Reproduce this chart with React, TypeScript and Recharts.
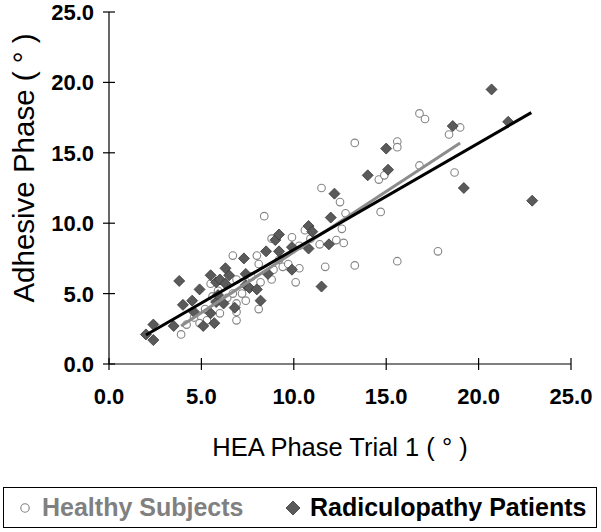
import React from 'react';
import { ScatterChart, Scatter, XAxis, YAxis } from 'recharts';

const healthyX = [3.9, 4.2, 4.6, 4.9, 5.3, 5.2, 5.5, 5.6, 6.0, 6.4, 6.7, 6.9, 6.9, 6.9, 6.7, 6.9, 7.2, 7.7, 8.0, 8.1, 8.1, 8.2, 8.4, 8.8, 8.8, 8.9, 9.2, 9.4, 9.7, 10.1, 10.3, 10.3, 10.6, 11.4, 11.5, 11.7, 12.3, 12.5, 12.6, 12.7, 12.8, 13.3, 13.3, 14.6, 14.7, 14.9, 15.6, 15.6, 15.6, 16.8, 16.8, 17.1, 17.8, 18.4, 18.7, 19.0, 9.9, 7.4, 5.9, 10.9];
const healthyY = [2.1, 2.8, 3.3, 2.9, 3.1, 3.9, 5.7, 4.8, 3.6, 4.7, 5.0, 4.3, 3.7, 3.1, 7.7, 6.0, 5.0, 6.2, 7.7, 7.1, 3.9, 5.8, 10.5, 8.9, 6.0, 6.7, 7.4, 6.9, 7.1, 5.8, 6.8, 8.4, 9.5, 8.5, 12.5, 6.9, 8.8, 11.5, 9.6, 8.6, 10.7, 15.7, 7.0, 13.1, 10.8, 13.4, 15.8, 15.4, 7.3, 14.1, 17.8, 17.4, 8.0, 16.3, 13.6, 16.8, 9.0, 4.5, 5.2, 8.9];

const radicX = [2.0, 2.4, 2.4, 3.5, 3.8, 4.5, 4.6, 4.9, 5.1, 5.5, 5.7, 5.5, 5.8, 5.8, 5.9, 6.0, 6.2, 6.3, 6.3, 6.5, 6.8, 7.3, 7.4, 7.4, 7.6, 8.0, 8.2, 8.5, 8.6, 9.0, 9.2, 9.2, 9.9, 9.9, 10.8, 11.0, 10.8, 11.5, 11.9, 12.0, 12.2, 14.0, 15.0, 15.1, 18.6, 19.2, 20.7, 21.6, 22.9, 4.0];
const radicY = [2.1, 1.7, 2.8, 2.7, 5.9, 4.5, 3.7, 5.3, 2.7, 3.6, 2.9, 6.3, 5.8, 4.4, 4.9, 6.0, 4.3, 6.8, 5.7, 6.3, 4.0, 7.5, 6.4, 5.6, 5.4, 5.3, 4.5, 8.0, 6.4, 8.8, 9.2, 8.0, 6.7, 8.3, 9.8, 9.4, 8.2, 5.5, 8.5, 10.4, 12.1, 13.4, 15.3, 13.8, 16.9, 12.5, 19.5, 17.2, 11.6, 4.2];

const healthyFitX = [3.9, 19.0];
const healthyFitY = [2.7, 15.7];
const radicFitX = [2.0, 22.85];
const radicFitY = [2.06, 17.85];

const axisTicks = [0, 5, 10, 15, 20, 25];

const toPts = (xs: number[], ys: number[]) => xs.map((x, i) => ({ x, y: ys[i] }));
const healthyData = toPts(healthyX, healthyY);
const radicData = toPts(radicX, radicY);
const healthyFit = toPts(healthyFitX, healthyFitY);
const radicFit = toPts(radicFitX, radicFitY);

const FONT = '"Liberation Sans", Arial, sans-serif';
const TS = 6;
const TM = 10;

const YTick = (props: any) => {
  const { x, y, payload } = props;
  const ax = x + TS + TM;
  return (
    <g>
      <line x1={ax - 6} x2={ax + 6} y1={y} y2={y} stroke="#000" strokeWidth={1.2} />
      <text x={x + 1} y={y} dy={8} textAnchor="end" fontFamily={FONT} fontWeight="bold" fontSize={22} fill="#000">
        {Number(payload.value).toFixed(1)}
      </text>
    </g>
  );
};

const XTick = (props: any) => {
  const { x, y, payload } = props;
  const ay = y - TS - TM;
  return (
    <g>
      <line x1={x} x2={x} y1={ay - 6} y2={ay + 6} stroke="#000" strokeWidth={1.2} />
      <text x={x} y={ay + 40} textAnchor="middle" fontFamily={FONT} fontWeight="bold" fontSize={22} fill="#000">
        {Number(payload.value).toFixed(1)}
      </text>
    </g>
  );
};

const Circle = (props: any) => (
  <circle cx={props.cx} cy={props.cy} r={3.8} fill="#fff" stroke="#858585" strokeWidth={1.1} />
);

const Diamond = (props: any) => {
  const { cx, cy } = props;
  const s = 5.5;
  return (
    <polygon
      points={`${cx},${cy - s} ${cx + s},${cy} ${cx},${cy + s} ${cx - s},${cy}`}
      fill="#5a5a5a"
      stroke="#383838"
      strokeWidth={0.8}
    />
  );
};

const NoShape = () => <g />;

const XLabel = (props: any) => {
  const vb = props.viewBox || {};
  return (
    <text x={vb.x + vb.width / 2} y={vb.y + 92} textAnchor="middle" fontFamily={FONT} fontSize={25.5} fill="#000">
      HEA Phase Trial 1 ( ° )
    </text>
  );
};

const YLabel = () => {
  const cx = 23;
  const cy = 168;
  return (
    <text
      x={cx}
      y={cy}
      transform={`rotate(-90, ${cx}, ${cy})`}
      textAnchor="middle"
      dominantBaseline="central"
      fontFamily={FONT}
      fontSize={29.5}
      fill="#000"
    >
      Adhesive Phase ( ° )
    </text>
  );
};

export default function App() {
  return (
    <div style={{ position: 'absolute', left: 0, top: 0, width: 601, height: 532, background: '#fff' }}>
      <ScatterChart width={601} height={532} margin={{ top: 12, right: 30, bottom: 68, left: 0 }}>
        <XAxis
          type="number"
          dataKey="x"
          domain={[0, 25]}
          ticks={axisTicks}
          interval={0}
          height={100}
          tickSize={TS}
          tickMargin={TM}
          tickLine={false}
          tick={<XTick />}
          axisLine={{ stroke: '#000', strokeWidth: 1.2 }}
          allowDataOverflow
          label={<XLabel />}
        />
        <YAxis
          type="number"
          dataKey="y"
          domain={[0, 25]}
          ticks={axisTicks}
          interval={0}
          width={109}
          tickSize={TS}
          tickMargin={TM}
          tickLine={false}
          tick={<YTick />}
          axisLine={{ stroke: '#000', strokeWidth: 1.2 }}
          allowDataOverflow
          label={<YLabel />}
        />
        <Scatter data={healthyData} shape={<Circle />} isAnimationActive={false} />
        <Scatter data={radicData} shape={<Diamond />} isAnimationActive={false} />
        <Scatter
          data={healthyFit}
          line={{ stroke: '#8c8c8c', strokeWidth: 3 }}
          lineType="joint"
          shape={<NoShape />}
          isAnimationActive={false}
        />
        <Scatter
          data={radicFit}
          line={{ stroke: '#000', strokeWidth: 3 }}
          lineType="joint"
          shape={<NoShape />}
          isAnimationActive={false}
        />
      </ScatterChart>
      <div
        style={{
          position: 'absolute',
          left: 3,
          top: 487,
          width: 592,
          height: 39,
          border: '1px solid #000',
          fontFamily: FONT,
          fontWeight: 'bold',
          fontSize: 25,
          lineHeight: 'normal',
        }}
      >
        <svg width={14} height={14} style={{ position: 'absolute', left: 14, top: 13 }}>
          <circle cx={7} cy={7} r={4.2} fill="#fff" stroke="#808080" strokeWidth={1.1} />
        </svg>
        <span style={{ position: 'absolute', left: 38, top: 5, color: '#808080', whiteSpace: 'nowrap' }}>Healthy Subjects</span>
        <svg width={16} height={16} style={{ position: 'absolute', left: 281, top: 12 }}>
          <polygon points="8,1 15,8 8,15 1,8" fill="#5a5a5a" stroke="#383838" strokeWidth={0.8} />
        </svg>
        <span style={{ position: 'absolute', left: 306, top: 5, color: '#000', whiteSpace: 'nowrap' }}>Radiculopathy Patients</span>
      </div>
    </div>
  );
}
